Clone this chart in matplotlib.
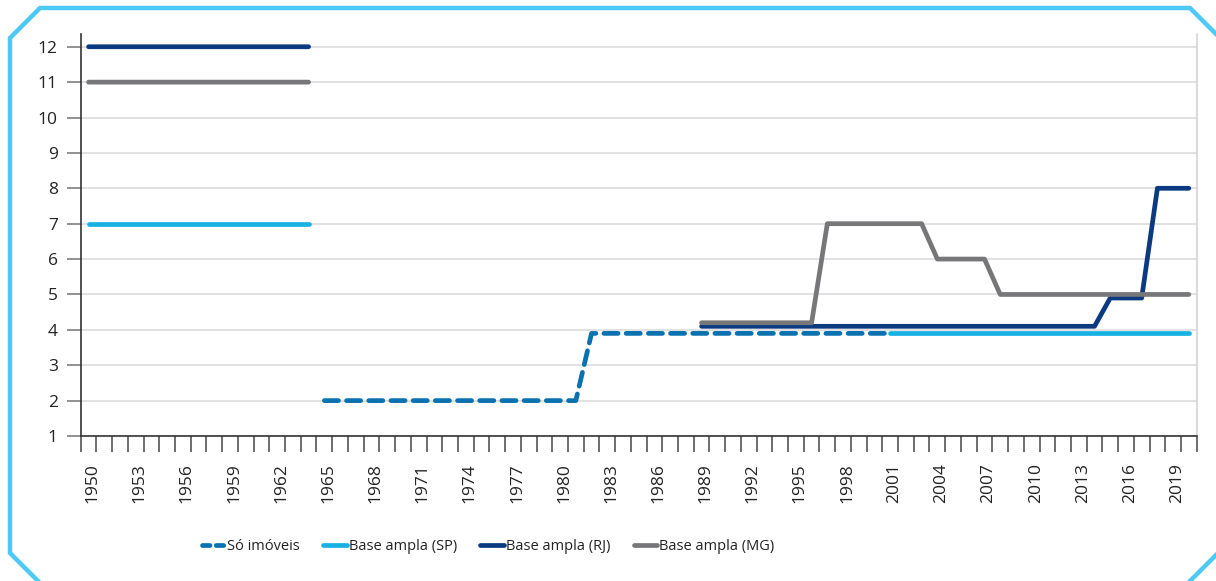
import numpy as np
import matplotlib
matplotlib.use("Agg")
import matplotlib.pyplot as plt
from matplotlib.lines import Line2D
from matplotlib.transforms import ScaledTranslation

nan = np.nan

# categories (one per year)
years = list(range(1950, 2021))
year_labels = [str(y) for y in range(1950, 2020, 3)]

# series values, one row per decade (1950s, 1960s, ..., 2020)
so_imoveis = [
    nan, nan, nan, nan, nan, nan, nan, nan, nan, nan,
    nan, nan, nan, nan, nan, 2, 2, 2, 2, 2,
    2, 2, 2, 2, 2, 2, 2, 2, 2, 2,
    2, 2, 3.9, 3.9, 3.9, 3.9, 3.9, 3.9, 3.9, 3.9,
    3.9, 3.9, 3.9, 3.9, 3.9, 3.9, 3.9, 3.9, 3.9, 3.9,
    3.9, 3.9, nan, nan, nan, nan, nan, nan, nan, nan,
    nan, nan, nan, nan, nan, nan, nan, nan, nan, nan,
    nan,
]
base_sp = [
    7, 7, 7, 7, 7, 7, 7, 7, 7, 7,
    7, 7, 7, 7, 7, nan, nan, nan, nan, nan,
    nan, nan, nan, nan, nan, nan, nan, nan, nan, nan,
    nan, nan, nan, nan, nan, nan, nan, nan, nan, nan,
    nan, nan, nan, nan, nan, nan, nan, nan, nan, nan,
    nan, 3.9, 3.9, 3.9, 3.9, 3.9, 3.9, 3.9, 3.9, 3.9,
    3.9, 3.9, 3.9, 3.9, 3.9, 3.9, 3.9, 3.9, 3.9, 3.9,
    3.9,
]
base_rj = [
    12, 12, 12, 12, 12, 12, 12, 12, 12, 12,
    12, 12, 12, 12, 12, nan, nan, nan, nan, nan,
    nan, nan, nan, nan, nan, nan, nan, nan, nan, nan,
    nan, nan, nan, nan, nan, nan, nan, nan, nan, 4.1,
    4.1, 4.1, 4.1, 4.1, 4.1, 4.1, 4.1, 4.1, 4.1, 4.1,
    4.1, 4.1, 4.1, 4.1, 4.1, 4.1, 4.1, 4.1, 4.1, 4.1,
    4.1, 4.1, 4.1, 4.1, 4.1, 4.9, 4.9, 4.9, 8, 8,
    8,
]
base_mg = [
    11, 11, 11, 11, 11, 11, 11, 11, 11, 11,
    11, 11, 11, 11, 11, nan, nan, nan, nan, nan,
    nan, nan, nan, nan, nan, nan, nan, nan, nan, nan,
    nan, nan, nan, nan, nan, nan, nan, nan, nan, 4.2,
    4.2, 4.2, 4.2, 4.2, 4.2, 4.2, 4.2, 7, 7, 7,
    7, 7, 7, 7, 6, 6, 6, 6, 5, 5,
    5, 5, 5, 5, 5, 5, 5, 5, 5, 5,
    5,
]

series_labels = ["Só imóveis", "Base ampla (SP)", "Base ampla (RJ)", "Base ampla (MG)"]
colors = ["#0a72b0", "#18b1e3", "#0b3a80", "#77777a"]

W, H = 1216, 581


def px(x, y):
    # figure pixel (from top-left) -> figure fraction
    return x / W, 1 - y / H


def draw_frame(fig):
    frame_color = "#4dc9f4"
    pts = [(40, 583), (10, 553), (10, 38), (40, 8), (1190, 8), (1222, 40)]
    xs, ys = zip(*[px(*p) for p in pts])
    fig.add_artist(Line2D(xs, ys, transform=fig.transFigure, color=frame_color,
                          lw=3.2, solid_joinstyle="miter"))
    pts = [(1222, 549), (1188, 583)]
    xs, ys = zip(*[px(*p) for p in pts])
    fig.add_artist(Line2D(xs, ys, transform=fig.transFigure, color=frame_color, lw=3.2))


def main():
    plt.rcParams['font.family'] = ['Open Sans', 'DejaVu Sans']

    fig = plt.figure(figsize=(W / 100, H / 100), dpi=100)
    left, right = px(80.7, 0)[0], px(1196.7, 0)[0]
    bottom, top = px(0, 436)[1], px(0, 34)[1]
    ax = fig.add_axes([left, bottom, right - left, top - bottom])

    lw = 3.4
    data = [so_imoveis, base_sp, base_rj, base_mg]
    for i, (vals, lab, col) in enumerate(zip(data, series_labels, colors)):
        if i == 0:
            ax.plot(years, vals, color=col, lw=lw, label=lab, dashes=(3.0, 1.7),
                    dash_capstyle="round", dash_joinstyle="round")
        else:
            ax.plot(years, vals, color=col, lw=lw, label=lab,
                    solid_capstyle="round", solid_joinstyle="round")

    ax.set_xlim(1949.5, 2020.5)
    ax.set_ylim(1, 12.36)

    # y axis
    ax.set_yticks(range(1, 13))
    ax.tick_params(axis="y", length=10, width=1.2, color="#7f7f7f", pad=6.5,
                   labelsize=12.5, labelcolor="#222222")
    ax.grid(axis="y", color="#d9d9d9", lw=1.1)
    ax.set_axisbelow(True)

    # x axis: ticks at year boundaries, labels every 3 years
    ax.set_xticks(range(1950, 2020, 3))
    ax.set_xticklabels(year_labels, rotation=90)
    ax.set_xticks(np.arange(1949.5, 2021, 1), minor=True)
    ax.tick_params(axis="x", which="major", length=0, pad=19.5, labelsize=12.5,
                   labelcolor="#222222")
    ax.tick_params(axis="x", which="minor", length=11.5, width=1.2, color="#555555")
    offset = ScaledTranslation(4 / 100, 0, fig.dpi_scale_trans)
    for lbl in ax.get_xticklabels():
        lbl.set_transform(lbl.get_transform() + offset)

    ax.spines["top"].set_visible(False)
    ax.spines["right"].set_color("#d0d0d0")
    ax.spines["right"].set_linewidth(1.1)
    for s in ("left", "bottom"):
        ax.spines[s].set_color("#333333")
        ax.spines[s].set_linewidth(1.2)

    # legend (shorter dashes on the first handle so two dashes show)
    handles, labels = ax.get_legend_handles_labels()
    handles[0] = Line2D([], [], color=colors[0], lw=lw, dashes=(1.6, 1.3),
                        dash_capstyle="round")
    lx, ly = px(488, 547)
    ax.legend(handles, labels, loc="center", bbox_to_anchor=(lx, ly),
              bbox_transform=fig.transFigure, ncol=4, frameon=False, fontsize=10.5,
              handlelength=1.6, handletextpad=0.15, columnspacing=1.6, borderpad=0,
              borderaxespad=0, labelcolor="#222222")

    draw_frame(fig)
    fig.savefig("out.png", dpi=100)


if __name__ == "__main__":
    main()
